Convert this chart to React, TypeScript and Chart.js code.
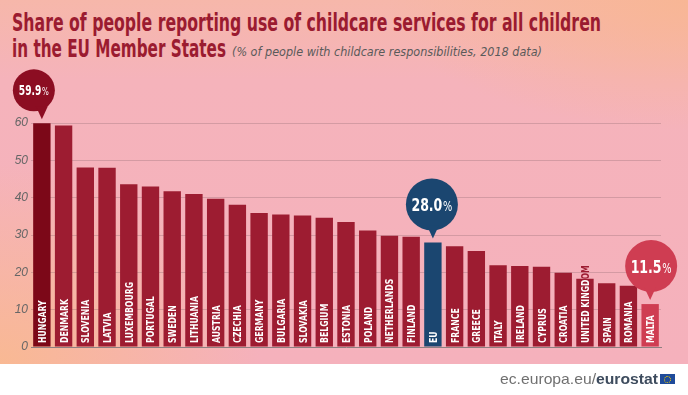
import React, { useEffect, useLayoutEffect, useRef } from "react";
import { Chart, registerables } from "chart.js";

Chart.register(...registerables);

const categories = [
  "HUNGARY", "DENMARK", "SLOVENIA", "LATVIA", "LUXEMBOURG", "PORTUGAL", "SWEDEN",
  "LITHUANIA", "AUSTRIA", "CZECHIA", "GERMANY", "BULGARIA", "SLOVAKIA", "BELGIUM",
  "ESTONIA", "POLAND", "NETHERLANDS", "FINLAND", "EU", "FRANCE", "GREECE", "ITALY",
  "IRELAND", "CYPRUS", "CROATIA", "UNITED KINGDOM", "SPAIN", "ROMANIA", "MALTA",
];
const shares = [
  59.9, 59.3, 48.1, 48.0, 43.6, 43.0, 41.7, 41.0, 39.7, 38.1, 35.9, 35.5, 35.2, 34.6,
  33.5, 31.2, 29.8, 29.5, 28.0, 27.0, 25.7, 21.9, 21.7, 21.5, 19.9, 18.3, 17.1, 16.4, 11.5,
];
const yTicks = [0, 10, 20, 30, 40, 50, 60];
const highlighted = ["HUNGARY", "EU", "MALTA"];

const TITLE_LINE1 = "Share of people reporting use of childcare services for all children";
const TITLE_LINE2 = "in the EU Member States";
const SUBTITLE = "(% of people with childcare responsibilities, 2018 data)";

const COND = "'Liberation Sans Narrow', 'DejaVu Sans Condensed', 'Roboto Condensed', 'Liberation Sans', sans-serif";

const BAR_RED = "#9d1c31";
function barColor(cat: string): string {
  if (cat === "HUNGARY") return "#7c0818";
  if (cat === "EU") return "#1b4670";
  if (cat === "MALTA") return "#cf3d52";
  return BAR_RED;
}
const calloutStyle: Record<string, { fill: string; r: number; dx: number; big: number; small: number; w: number }> = {
  HUNGARY: { fill: "#8c0d22", r: 21, dx: -8, big: 14, small: 11, w: 30 },
  EU: { fill: "#1b4670", r: 26, dx: -1, big: 18, small: 14, w: 41 },
  MALTA: { fill: "#cf3d52", r: 26, dx: 1, big: 18, small: 14, w: 41 },
};

const barLabelsPlugin = {
  id: "barLabels",
  afterDatasetsDraw(chart: any) {
    const ctx: CanvasRenderingContext2D = chart.ctx;
    const meta = chart.getDatasetMeta(0);
    const yBase = chart.scales.y.getPixelForValue(0);
    ctx.save();
    ctx.font = `bold 11px ${COND}`;
    const sx = 61 / ctx.measureText("LUXEMBOURG").width;
    meta.data.forEach((bar: any, i: number) => {
      const { x, y, width } = bar.getProps(["x", "y", "width"], true);
      const text = categories[i];
      const left = x - width / 2;
      const draw = (color: string) => {
        ctx.save();
        ctx.translate(x, yBase - 4);
        ctx.rotate(-Math.PI / 2);
        ctx.scale(sx, 1);
        ctx.fillStyle = color;
        ctx.textAlign = "left";
        ctx.textBaseline = "alphabetic";
        ctx.fillText(text, 0, 4);
        ctx.restore();
      };
      ctx.save();
      ctx.beginPath();
      ctx.rect(left, y, width, yBase - y);
      ctx.clip();
      draw("#ffffff");
      ctx.restore();
      ctx.save();
      ctx.beginPath();
      ctx.rect(left - 2, 0, width + 4, y);
      ctx.clip();
      draw(BAR_RED);
      ctx.restore();
    });
    ctx.restore();
  },
};

const calloutPlugin = {
  id: "callouts",
  afterDatasetsDraw(chart: any) {
    const ctx: CanvasRenderingContext2D = chart.ctx;
    const meta = chart.getDatasetMeta(0);
    ctx.save();
    highlighted.forEach((cat) => {
      const i = categories.indexOf(cat);
      const st = calloutStyle[cat];
      const { x, y } = meta.data[i].getProps(["x", "y"], true);
      const tipX = x;
      const tipY = y - 4;
      const cy = tipY - st.r - 8;
      const cx = x + st.dx;
      ctx.fillStyle = st.fill;
      ctx.beginPath();
      ctx.arc(cx, cy, st.r, 0, Math.PI * 2);
      ctx.fill();
      ctx.beginPath();
      ctx.moveTo(tipX - 6, cy + st.r - 5);
      ctx.lineTo(tipX + 6, cy + st.r - 5);
      ctx.lineTo(tipX, tipY);
      ctx.closePath();
      ctx.fill();
      const num = shares[i].toFixed(1);
      ctx.font = `bold ${st.big}px ${COND}`;
      const wNum = ctx.measureText(num).width;
      ctx.font = `${st.small}px ${COND}`;
      const wPct = ctx.measureText("%").width;
      const k = st.w / (wNum + wPct + 1);
      const startX = cx - st.w / 2;
      const base = cy + st.big * 0.36;
      ctx.fillStyle = "#ffffff";
      ctx.textAlign = "left";
      ctx.textBaseline = "alphabetic";
      ctx.save();
      ctx.translate(startX, base);
      ctx.scale(k, 1);
      ctx.font = `bold ${st.big}px ${COND}`;
      ctx.fillText(num, 0, 0);
      ctx.font = `${st.small}px ${COND}`;
      ctx.fillText("%", wNum + 1, 0);
      ctx.restore();
    });
    ctx.restore();
  },
};

function FitText({ width, style, children }: { width: number; style: React.CSSProperties; children: React.ReactNode }) {
  const ref = useRef<HTMLDivElement>(null);
  useLayoutEffect(() => {
    const el = ref.current;
    if (!el) return;
    el.style.transform = "none";
    const w = el.getBoundingClientRect().width;
    if (w > 0) el.style.transform = `scaleX(${width / w})`;
  });
  return (
    <div
      ref={ref}
      style={{ position: "absolute", whiteSpace: "nowrap", transformOrigin: "left top", ...style }}
    >
      {children}
    </div>
  );
}

export default function App() {
  const canvasRef = useRef<HTMLCanvasElement>(null);

  useEffect(() => {
    const canvas = canvasRef.current;
    if (!canvas) return;
    const chart = new Chart(canvas, {
      type: "bar",
      data: {
        labels: categories,
        datasets: [
          {
            data: shares,
            backgroundColor: categories.map(barColor),
            borderWidth: 0,
            barPercentage: 0.8,
            categoryPercentage: 1,
          },
        ],
      },
      options: {
        animation: false,
        responsive: false,
        events: [],
        layout: { padding: { left: 0, right: 27, top: 123, bottom: 48 } },
        plugins: { legend: { display: false }, tooltip: { enabled: false }, title: { display: false } },
        scales: {
          x: {
            afterFit: (scale: any) => {
              scale.height = 0;
            },
            ticks: { display: false },
            grid: { display: false },
            border: { display: true, color: "#8d7f80", width: 1 },
          },
          y: {
            min: 0,
            max: 60,
            afterFit: (scale: any) => {
              scale.width = 31;
            },
            afterBuildTicks: (scale: any) => {
              scale.ticks = yTicks.map((v) => ({ value: v }));
            },
            ticks: {
              padding: 3,
              color: "#666666",
              font: { family: "'Liberation Sans', sans-serif", size: 12, style: "italic" },
            },
            grid: {
              drawTicks: false,
              color: (c: any) => (c.tick && c.tick.value === 0 ? "rgba(0,0,0,0)" : "rgba(125,95,100,0.28)"),
              lineWidth: 1,
            },
            border: { display: false },
          },
        },
      },
      plugins: [barLabelsPlugin, calloutPlugin],
    });
    return () => chart.destroy();
  }, []);

  return (
    <div style={{ position: "absolute", left: 0, top: 0, width: 688, height: 395, background: "#ffffff", overflow: "hidden" }}>
      <div
        style={{
          position: "absolute",
          left: 0,
          top: 0,
          width: 688,
          height: 364,
          background:
            "radial-gradient(ellipse 260px 200px at 0% 100%, rgba(249,185,145,0.95), rgba(249,185,145,0) 100%), " +
            "radial-gradient(ellipse 300px 130px at 100% 0%, rgba(248,182,148,0.95), rgba(248,184,150,0) 100%), " +
            "linear-gradient(to bottom, #f6b7aa 0%, #f5b3bb 22%, #f5b1bc 100%)",
        }}
      />
      <FitText
        width={589}
        style={{ left: 12, top: 9.5, fontFamily: COND, fontWeight: "bold", fontSize: 25, lineHeight: "25px", color: "#9b1b30" }}
      >
        {TITLE_LINE1}
      </FitText>
      <FitText
        width={214}
        style={{ left: 12, top: 35.5, fontFamily: COND, fontWeight: "bold", fontSize: 25, lineHeight: "25px", color: "#9b1b30" }}
      >
        {TITLE_LINE2}
      </FitText>
      <FitText
        width={310}
        style={{ left: 232, top: 45.5, fontFamily: COND, fontStyle: "italic", fontSize: 12.5, lineHeight: "12.5px", color: "#5a5a5a" }}
      >
        {SUBTITLE}
      </FitText>
      <canvas ref={canvasRef} width={688} height={395} style={{ position: "absolute", left: 0, top: 0, width: 688, height: 395 }} />
      <FitText
        width={158}
        style={{ left: 500, top: 371, fontFamily: "'Liberation Sans', Arial, sans-serif", fontSize: 15, lineHeight: "15px", color: "#707070" }}
      >
        ec.europa.eu/<span style={{ fontWeight: "bold", color: "#3e4c5e" }}>eurostat</span>
      </FitText>
      <div style={{ position: "absolute", left: 660, top: 374, width: 15, height: 10, background: "#1f4b9a" }}>
        <div
          style={{
            position: "absolute",
            left: 4,
            top: 1.5,
            width: 5,
            height: 5,
            borderRadius: "50%",
            border: "1px dotted #f4d000",
          }}
        />
      </div>
    </div>
  );
}
